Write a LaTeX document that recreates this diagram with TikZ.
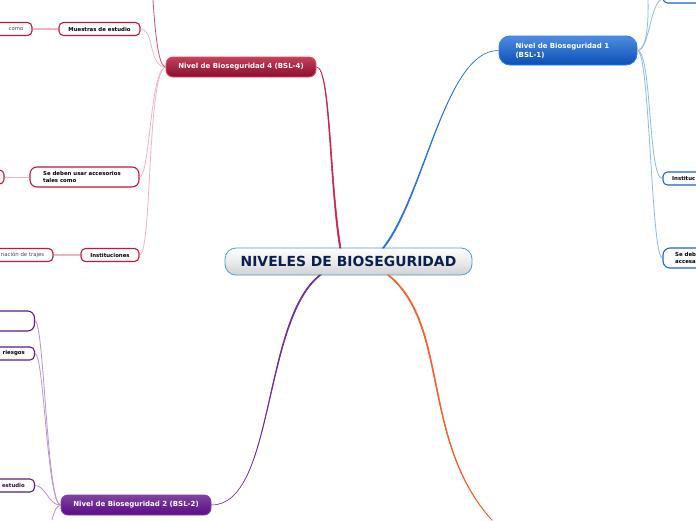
\documentclass[tikz,border=0pt]{standalone}
\usepackage{fontspec}
\setmainfont{DejaVu Sans}
\definecolor{rootline}{HTML}{4A9FD8}
\definecolor{roottext}{HTML}{0A2050}
\definecolor{redline}{HTML}{C4173A}
\definecolor{redpale}{HTML}{EFB4C0}
\definecolor{blueline}{HTML}{1763D8}
\definecolor{bluepale}{HTML}{8DB8F0}
\definecolor{purpleline}{HTML}{5F1A85}
\definecolor{purplepale}{HTML}{B795CF}
\definecolor{orangeline}{HTML}{F5602A}
\tikzset{
  x=1pt,y=-1pt,
  mainbox/.style={rounded corners=7pt,line width=0.9pt,inner sep=0pt,align=left,text=white,font=\fontsize{7}{9}\selectfont\bfseries},
  rootbox/.style={draw=rootline,line width=0.8pt,rounded corners=11pt,top color=white,bottom color=black!18,middle color=black!8,text=roottext,font=\fontsize{13.9}{15}\selectfont\bfseries,inner sep=0pt,minimum width=247pt,minimum height=27pt},
  redmain/.style={mainbox,draw=HLred,top color=HTred,bottom color=HBred,minimum width=150pt,minimum height=20pt},
  bluemain/.style={mainbox,draw=HLblue,top color=HTblue,bottom color=HBblue,minimum width=138pt,minimum height=29pt,rounded corners=11pt},
  purplemain/.style={mainbox,draw=HLpurple,top color=HTpurple,bottom color=HBpurple,minimum width=150pt,minimum height=20pt},
  subbox/.style={draw,fill=white,line width=1.1pt,rounded corners=4.5pt,inner sep=0pt},
  subtext/.style={inner sep=0pt,text=black,align=left,font=\fontsize{5.4}{7}\selectfont\bfseries},
  leaftext/.style={inner sep=0pt,text=black!70,font=\fontsize{5.4}{7}\selectfont},
  redbox/.style={subbox,draw=redline},
  bluebox/.style={subbox,draw=blueline},
  purplebox/.style={subbox,draw=purpleline},
  redlink/.style={draw=redpale,line width=0.8pt},
  bluelink/.style={draw=bluepale,line width=0.8pt},
  purplelink/.style={draw=purplepale,line width=0.8pt},
  rootlink/.style={line width=0.55pt,draw=#1,fill=#1},
}
\definecolor{HLred}{HTML}{E8485E}
\definecolor{HTred}{HTML}{C2405A}
\definecolor{HBred}{HTML}{8A0E2E}
\definecolor{HLblue}{HTML}{2F7FE6}
\definecolor{HTblue}{HTML}{4F8CE0}
\definecolor{HBblue}{HTML}{0A4FB8}
\definecolor{HLpurple}{HTML}{7F3FA8}
\definecolor{HTpurple}{HTML}{80449F}
\definecolor{HBpurple}{HTML}{5A0A86}
\definecolor{redroot}{HTML}{C92448}
\definecolor{purpleroot}{HTML}{6C2F96}
\definecolor{blueroot}{HTML}{2A72DC}
\begin{document}
\begin{tikzpicture}
\useasboundingbox (0,0) rectangle (696,520);
\clip (0,0) rectangle (696,520);
\fill[white] (0,0) rectangle (696,520);
% main nodes
\node[rootbox] (root) at (348.5,261.5) {NIVELES DE BIOSEGURIDAD};
\node[redmain] (bsl4) at (241,67) {Nivel de Bioseguridad 4 (BSL-4)};
\node[bluemain,text width=105pt,inner xsep=16.5pt] (bsl1) at (568,50.5) {Nivel de Bioseguridad 1\\(BSL-1)};
\node[purplemain] (bsl2) at (136,505) {Nivel de Bioseguridad 2 (BSL-2)};
% red children
\node[redbox,minimum width=81pt,minimum height=13pt] (muestras) at (99.5,29) {};
\node[subtext] (muestrast) at (muestras.center) {Muestras de estudio};
\node[redbox,minimum width=44pt,minimum height=13pt] (como) at (10,29) {};
\node[leaftext] (comot) at (16,29) {como};
\node[redbox,minimum width=109pt,minimum height=20pt,rounded corners=7pt] (acces) at (84.5,177) {};
\node[subtext,anchor=west] (accest) at (43,177) {Se deben usar accesorios\\tales como};
\node[redbox,minimum width=24pt,minimum height=14pt] (accesleaf) at (-8,177) {};
\node[redbox,minimum width=58pt,minimum height=13pt] (inst) at (110,255) {};
\node[subtext] (instt) at (inst.center) {Instituciones};
\node[redbox,minimum width=73pt,minimum height=13pt] (trajes) at (16.5,255) {};
\node[leaftext,anchor=east] (trajest) at (44.5,255) {nación de trajes};
% blue children
\node[bluebox,minimum width=60pt,minimum height=14pt] (bluetop) at (693,-4) {};
\node[bluebox,minimum width=60pt,minimum height=13pt] (blueinst) at (693,178.5) {};
\node[subtext,anchor=west] (blueinstt) at (672,178.5) {Instituc};
\node[bluebox,minimum width=60pt,minimum height=20pt,rounded corners=7pt] (bluese) at (693,258) {};
\node[subtext,anchor=west] (blueset) at (675,258) {Se deb\\accesa};
% purple children
\node[purplebox,minimum width=60pt,minimum height=20pt,rounded corners=7pt] (ptop) at (4.5,321) {};
\node[purplebox,minimum width=60pt,minimum height=13pt] (prisk) at (4.5,353.5) {};
\node[subtext,anchor=east] (priskt) at (25,353.5) {riesgos};
\node[purplebox,minimum width=60pt,minimum height=13pt] (pest) at (4.5,485.5) {};
\node[subtext,anchor=east,text=purpleline!50!black] (pestt) at (25,485.5) {estudio};
% free ends
\coordinate (rtop) at (153,0);
\coordinate (btop) at (648,0);
\coordinate (pbot) at (52,520);
\coordinate (obot) at (492,520);
\coordinate (obotb) at (491.6,520);
\coordinate (r4) at (341,248);
\coordinate (r4b) at (339.6,248);
\coordinate (r1) at (384,248);
\coordinate (r1b) at (382.4,248);
\coordinate (r2) at (321,275);
\coordinate (r2b) at (319.4,275);
\coordinate (r3) at (389,275);
\coordinate (r3b) at (387.4,275);
% root links, tapered from the root outward
\filldraw[rootlink=redroot] (bsl4.east) .. controls (331,67) and (329.7,180) .. (r4) -- (r4b) .. controls (328.7,180) and (330,67) .. (bsl4.east);
\filldraw[rootlink=blueroot] (bsl1.west) .. controls (445,50) and (425.5,195) .. (r1) -- (r1b) .. controls (424.5,195) and (445,50) .. (bsl1.west);
\filldraw[rootlink=purpleroot] (bsl2.east) .. controls (275,505) and (262.5,320) .. (r2) -- (r2b) .. controls (261.5,320) and (275,505) .. (bsl2.east);
\filldraw[rootlink=orangeline] (r3) .. controls (450.5,325) and (420.5,440) .. (obot) -- (obotb) .. controls (419.5,440) and (449.5,325) .. (r3b) -- cycle;
% red links
\draw[redlink] (bsl4.west) .. controls (148,66) and (155,30) .. (muestras.east);
\draw[redlink] (bsl4.west) .. controls (150,70) and (150,177) .. (acces.east);
\draw[redlink] (bsl4.west) .. controls (147,72) and (152,255) .. (inst.east);
\draw[redroot!80!white,line width=0.8pt] (bsl4.west) .. controls (158,66) and (155,30) .. (rtop);
\draw[redpale,line width=1.2pt] (muestras.west) -- (como.east);
\draw[redpale,line width=0.8pt] (acces.west) -- (accesleaf.east);
\draw[redpale,line width=1.2pt] (inst.west) -- (trajes.east);
% blue links
\draw[bluelink] (bsl1.east) .. controls (650,50) and (648,0) .. (btop);
\draw[bluelink] (bsl1.east) .. controls (650,50) and (650,0) .. (663,-1);
\draw[bluelink] (bsl1.east) .. controls (652,52) and (648,178.5) .. (blueinst.west);
\draw[bluelink] (bsl1.east) .. controls (650,52) and (651,258) .. (bluese.west);
% purple links
\draw[purplelink] (bsl2.west) .. controls (47,505) and (44,321) .. (ptop.east);
\draw[purplelink] (bsl2.west) .. controls (47,503) and (44,353.5) .. (prisk.east);
\draw[purplelink] (bsl2.west) .. controls (48,505) and (46,485.5) .. (pest.east);
\draw[purplelink] (bsl2.west) .. controls (56,506) and (54,512) .. (pbot);
\end{tikzpicture}
\end{document}
